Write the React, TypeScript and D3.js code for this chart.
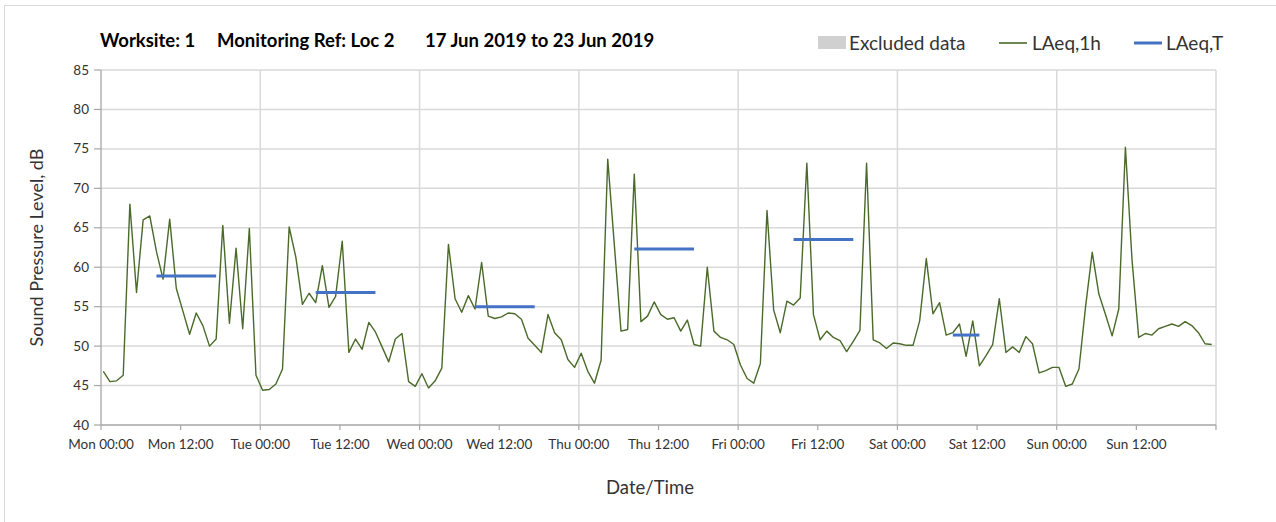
import React from "react";
import * as d3 from "d3";

const startDate = new Date(Date.UTC(2019, 5, 17, 0, 0));
const endDate = new Date(Date.UTC(2019, 5, 24, 0, 0));

// hourly LAeq,1h values, Mon 00:00 .. Sun 23:00
const laeq1h: number[] = [
  // Mon
  46.8, 45.5, 45.6, 46.3, 68.0, 56.8, 66.0, 66.5, 62.0, 58.5, 66.1, 57.3,
  54.4, 51.5, 54.2, 52.6, 50.0, 50.9, 65.3, 52.9, 62.4, 52.2, 64.9, 46.3,
  // Tue
  44.4, 44.5, 45.2, 47.1, 65.1, 61.3, 55.3, 56.7, 55.5, 60.2, 54.9, 56.3,
  63.3, 49.2, 50.9, 49.6, 53.0, 51.8, 49.9, 48.0, 50.9, 51.6, 45.5, 44.9,
  // Wed
  46.5, 44.7, 45.6, 47.2, 62.9, 56.0, 54.3, 56.4, 54.7, 60.6, 53.8, 53.5,
  53.7, 54.2, 54.1, 53.4, 51.0, 50.1, 49.2, 54.0, 51.7, 50.8, 48.3, 47.3,
  // Thu
  49.1, 46.8, 45.3, 48.2, 73.7, 62.8, 51.9, 52.1, 71.8, 53.1, 53.8, 55.6,
  54.0, 53.4, 53.6, 51.9, 53.3, 50.2, 50.0, 60.0, 51.9, 51.1, 50.8, 50.2,
  // Fri
  47.6, 45.9, 45.3, 47.8, 67.2, 54.6, 51.7, 55.7, 55.2, 56.1, 73.2, 54.0,
  50.8, 51.9, 51.1, 50.7, 49.3, 50.6, 52.0, 73.2, 50.8, 50.4, 49.7, 50.4,
  // Sat
  50.3, 50.1, 50.1, 53.2, 61.1, 54.1, 55.5, 51.4, 51.7, 52.8, 48.7, 53.2,
  47.5, 48.8, 50.2, 56.0, 49.2, 49.9, 49.2, 51.2, 50.3, 46.6, 46.9, 47.3,
  // Sun
  47.3, 44.9, 45.2, 47.1, 55.0, 61.9, 56.6, 54.0, 51.3, 54.7, 75.2, 60.9,
  51.1, 51.6, 51.4, 52.2, 52.5, 52.8, 52.5, 53.1, 52.6, 51.7, 50.3, 50.2,
];

// LAeq,T periods: day index, first hour, last hour, level
const periodDays = [0, 1, 2, 3, 4, 5];
const periodStartHours = [8, 8, 8, 8, 8, 8];
const periodEndHours = [17, 17, 17, 17, 17, 12];
const periodLevels = [58.9, 56.8, 55.0, 62.3, 63.5, 51.4];

const yTicks = [40, 45, 50, 55, 60, 65, 70, 75, 80, 85];
const sampleOffsetMinutes = 21;

const titleParts = ["Worksite: 1", "Monitoring Ref: Loc 2", "17 Jun 2019 to 23 Jun 2019"];

const W = 1276;
const H = 522;
const left = 101;
const right = 1216;
const top = 70;
const bottom = 425;
const FONT = "Lato, 'Open Sans', sans-serif";

export default function App() {
  const x = d3.scaleUtc().domain([startDate, endDate]).range([left, right]);
  const y = d3.scaleLinear().domain([40, 85]).range([bottom, top]);
  const hourMs = 3600 * 1000;
  const t = (h: number) => new Date(startDate.getTime() + h * hourMs);

  const pts = laeq1h.map((v, i) => ({ d: new Date(startDate.getTime() + i * hourMs + sampleOffsetMinutes * 60000), v }));
  const line = d3
    .line<{ d: Date; v: number }>()
    .x((p) => x(p.d))
    .y((p) => y(p.v));

  const dayTicks = d3.utcDay.range(startDate, endDate, 1);
  const halfDayTicks = d3.utcHour.every(12)!.range(startDate, endDate);
  const allTicks = d3.utcHour.every(12)!.range(startDate, new Date(endDate.getTime() + 1));
  const fmt = d3.utcFormat("%a %H:%M");

  const grid = "#d9d9d9";
  const axisCol = "#a6a6a6";

  return (
    <svg width={W} height={H} style={{ position: "absolute", left: 0, top: 0, background: "#fff" }} fontFamily={FONT}>
      <rect x={4.5} y={5.5} width={W + 10} height={H + 10} fill="#fff" stroke="#d9d9d9" strokeWidth={1} />
      {/* title */}
      <g fontWeight="bold" fontSize={18.5} fill="#000">
        <text x={100} y={47}>{titleParts[0]}</text>
        <text x={217} y={47}>{titleParts[1]}</text>
        <text x={425} y={47}>{titleParts[2]}</text>
      </g>
      {/* legend */}
      <g fontSize={19} fill="#333">
        <rect x={818} y={36} width={28} height={13} fill="#d0d0d0" />
        <text x={849} y={50}>Excluded data</text>
        <line x1={999} x2={1027} y1={43} y2={43} stroke="#4a6a2a" strokeWidth={1.6} />
        <text x={1032} y={50}>LAeq,1h</text>
        <line x1={1134} x2={1162} y1={43} y2={43} stroke="#4472c4" strokeWidth={3} />
        <text x={1166} y={50}>LAeq,T</text>
      </g>
      {/* horizontal grid */}
      {yTicks.filter((v) => v > 40).map((v) => (
        <line key={"h" + v} x1={left} x2={right} y1={y(v)} y2={y(v)} stroke={grid} strokeWidth={1.5} />
      ))}
      {/* vertical grid */}
      {dayTicks.slice(1).map((d, i) => (
        <line key={"v" + i} x1={x(d)} x2={x(d)} y1={top} y2={bottom} stroke={grid} strokeWidth={1.5} />
      ))}
      <line x1={right} x2={right} y1={top} y2={bottom} stroke={grid} strokeWidth={1.5} />
      {/* axes */}
      <line x1={left} x2={left} y1={top} y2={bottom} stroke={axisCol} strokeWidth={1.3} />
      <line x1={left} x2={right} y1={bottom} y2={bottom} stroke={axisCol} strokeWidth={1.3} />
      {yTicks.map((v) => (
        <g key={"yt" + v}>
          <line x1={left - 7} x2={left} y1={y(v)} y2={y(v)} stroke={axisCol} strokeWidth={1.2} />
          <text x={left - 12} y={y(v) + 4.5} fontSize={13.5} textAnchor="end" fill="#333">{v}</text>
        </g>
      ))}
      {allTicks.map((d, i) => (
        <line key={"xt" + i} x1={x(d)} x2={x(d)} y1={bottom} y2={bottom + 5} stroke={axisCol} strokeWidth={1.2} />
      ))}
      {halfDayTicks.map((d, i) => (
        <text key={"xl" + i} x={x(d)} y={449} fontSize={13.5} textAnchor="middle" fill="#333">{fmt(d)}</text>
      ))}
      {/* axis titles */}
      <text x={650} y={494} fontSize={18.5} textAnchor="middle" fill="#333">Date/Time</text>
      <text transform={`translate(43, ${(top + bottom) / 2}) rotate(-90)`} fontSize={18} textAnchor="middle" fill="#333">
        Sound Pressure Level, dB
      </text>
      {/* data */}
      <path d={line(pts) || ""} fill="none" stroke="#4a6a2a" strokeWidth={1.4} strokeLinejoin="round" />
      {periodDays.map((day, i) => {
        const h0 = day * 24 + periodStartHours[i];
        const h1 = day * 24 + periodEndHours[i];
        const x0 = x(new Date(t(h0).getTime() + sampleOffsetMinutes * 60000));
        const x1 = x(new Date(t(h1).getTime() + sampleOffsetMinutes * 60000));
        return (
          <line key={"p" + i} x1={x0} x2={x1} y1={y(periodLevels[i])} y2={y(periodLevels[i])} stroke="#4472c4" strokeWidth={3} />
        );
      })}
    </svg>
  );
}
